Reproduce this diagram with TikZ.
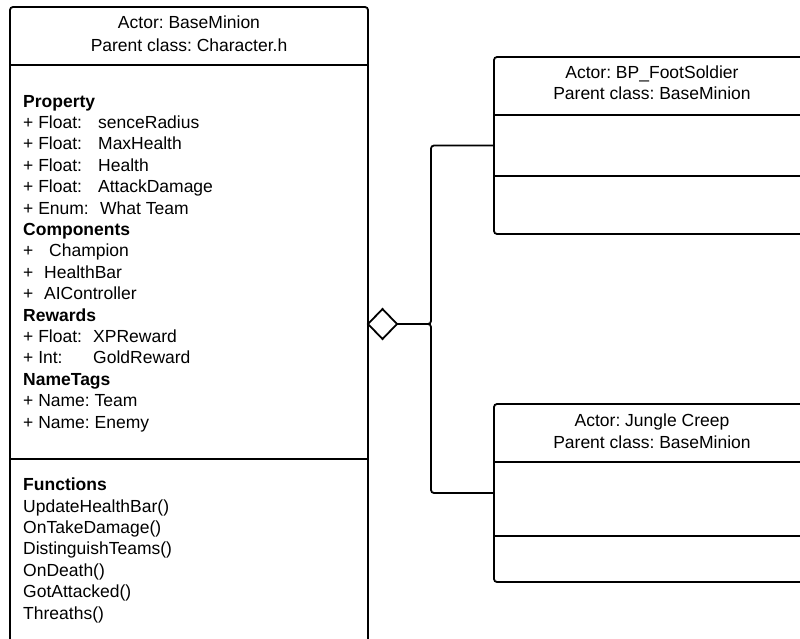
\documentclass[tikz,border=0pt]{standalone}
\usepackage{fontspec}
\setmainfont{Liberation Sans}
\frenchspacing
\usetikzlibrary{shapes.geometric}
\begin{document}
\begin{tikzpicture}[x=1pt,y=-1pt,
  ln/.style={line width=1.8pt},
  classbox/.style={draw, ln, rounded corners=3pt, anchor=north west, inner sep=0pt, outer sep=0pt},
  txt/.style={inner sep=0pt, align=left, font=\fontsize{17.5}{21.4}\selectfont},
  title/.style={inner sep=0pt, align=center, font=\fontsize{17.5}{22.5}\selectfont},
  agg/.style={diamond, draw, ln, fill=white, inner sep=0pt, outer sep=0pt,
    minimum width=29pt, minimum height=30pt},
  link/.style={ln, rounded corners=3pt}]
\useasboundingbox (0,0) rectangle (800,639);
\fill[white] (0,0) rectangle (800,639);

% BaseMinion class (multi-line nodes are placed by the baseline of their last line)
\node[classbox, minimum width=358pt, minimum height=650pt] (base) at (10,7) {};
\draw[ln] (base.west |- 0,65) -- (base.east |- 0,65);
\draw[ln] (base.west |- 0,459) -- (base.east |- 0,459);
\node[title, anchor=base] (baseTitle) at (189,52)
  {Actor: BaseMinion\\[0.5pt]Parent class: Character.h};
\node[txt, anchor=base west] (baseProps) at (23,428) {%
  \textbf{Property}\\
  \makebox[75pt][l]{+ Float:}senceRadius\\
  \makebox[75pt][l]{+ Float:}MaxHealth\\
  \makebox[75pt][l]{+ Float:}Health\\
  \makebox[75pt][l]{+ Float:}AttackDamage\\
  \makebox[77pt][l]{+ Enum:}What Team\\
  \textbf{Components}\\
  \makebox[26pt][l]{+}Champion\\
  \makebox[21pt][l]{+}HealthBar\\
  \makebox[21pt][l]{+}AIController\\
  \textbf{Rewards}\\
  \makebox[70pt][l]{+ Float:}XPReward\\
  \makebox[70pt][l]{+ Int:}GoldReward\\
  \textbf{NameTags}\\
  + Name: Team\\
  + Name: Enemy};
\node[txt, anchor=base west] (baseFuncs) at (23,619) {%
  \textbf{Functions}\\
  UpdateHealthBar()\\
  OnTakeDamage()\\
  DistinguishTeams()\\
  OnDeath()\\
  GotAttacked()\\
  Threaths()};

% BP_FootSoldier class
\node[classbox, minimum width=316pt, minimum height=177pt] (foot) at (494,57) {};
\draw[ln] (foot.west |- 0,115) -- (foot.east |- 0,115);
\draw[ln] (foot.west |- 0,176) -- (foot.east |- 0,176);
\node[title, anchor=base] (footTitle) at (652,100)
  {Actor: BP\_FootSoldier\\[-1.1pt]Parent class: BaseMinion};

% Jungle Creep class
\node[classbox, minimum width=316pt, minimum height=178pt] (creep) at (494,404) {};
\draw[ln] (creep.west |- 0,462) -- (creep.east |- 0,462);
\draw[ln] (creep.west |- 0,536) -- (creep.east |- 0,536);
\node[title, anchor=base] (creepTitle) at (652,448)
  {Actor: Jungle Creep\\[-1.1pt]Parent class: BaseMinion};

% aggregation connector
\node[agg, anchor=west] (hub) at (368,324) {};
\coordinate (fork) at (431,324);
\draw[link] (hub.east) -- (fork) |- (foot.west);
\draw[link] (hub.east) -- (fork) |- (creep.west);
\end{tikzpicture}
\end{document}
